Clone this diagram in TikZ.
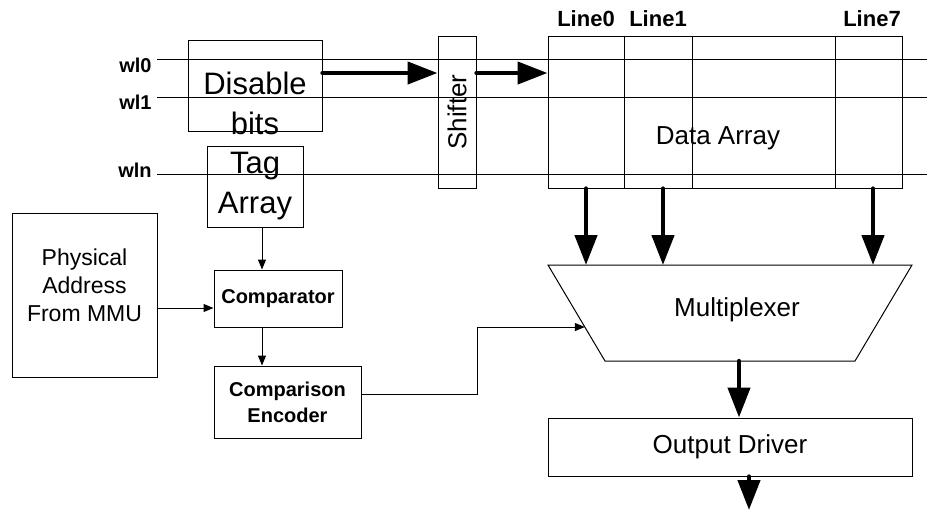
\documentclass[tikz,border=0pt]{standalone}
\usepackage{fontspec}
\setmainfont{Liberation Sans}
\usetikzlibrary{
    calc,
    positioning,
    arrows.meta
}

\begin{document}
\begin{tikzpicture}[
    x=0.5pt, y=-0.5pt,
    box/.style={
    	draw,
    	line width=.5pt,
    	inner sep=0pt, align=center
    }, big/.style={
    	font=\fontsize{15.5}{20}\selectfont, align=center
    }, mid/.style={
    	font=\fontsize{13}{16}\selectfont, align=center
    }, addr/.style={
    	font=\fontsize{11.5}{14}\selectfont, align=center
    }, bld/.style={
    	font=\fontsize{10}{13}\selectfont\bfseries, align=center
    }, wlabel/.style={
    	font=\fontsize{10}{12}\selectfont\bfseries, anchor=east, inner sep=0pt
    }, llabel/.style={
    	font=\fontsize{11}{13}\selectfont\bfseries, inner sep=0pt
    }, wire/.style={
    	line width=.5pt
    }, pil/.style={
    	-{Triangle[length=5pt, width=4pt]},
    	line width=.5pt
    }, bus/.style={
    	-{Triangle[length=15pt, width=11pt]},
    	line width=2.2pt, line cap=round
    }]

    \useasboundingbox (0,0) rectangle (927,510);

    %%% word lines
    \foreach \n/\y/\dy in {0/59/6, 1/97/5, n/174/-4} {
        \coordinate (wl\n) at (157,\y);
        \coordinate (wl\n-e) at (927,\y);
        \draw[wire] (wl\n) -- (wl\n-e);
        \node[wlabel] (wl\n-lbl) at (152,\y+\dy) {wl\n};
    }

    %%% left side
    \node[box, minimum width=67pt, minimum height=45.5pt] (dis) at (255,85.5) {};
    \node[big] (dis-txt) at (255,103) {Disable\\bits};

    \node[box, big, minimum width=48pt, minimum height=40.5pt] (tag) at (255,186.5) {Tag\\Array};

    \node[box, minimum width=72.5pt, minimum height=82pt] (phys) at (84.5,295) {};
    \node[addr] (phys-txt) at (84.5,285) {Physical\\Address\\From MMU};

    \node[box, bld, minimum width=64pt, minimum height=28.5pt] (cmp) at (278,298.5) {Comparator};
    \node[box, bld, minimum width=73.5pt, minimum height=36pt] (enc) at (287.5,402) {Comparison\\Encoder};

    \node[box, mid, minimum width=19pt, minimum height=76pt] (shf) at (457,112) {\rotatebox{90}{Shifter}};

    %%% data array
    \node[box, minimum width=177pt, minimum height=76pt] (data) at (725,112) {};
    \node[mid] (data-txt) at (718,138) {Data Array};
    \foreach \x in {624,692,835}
        \draw[wire] (\x,0 |- data.north) -- (\x,0 |- data.south);

    \node[llabel] (line0) at (586,19) {Line0};
    \node[llabel] (line1) at (658,19) {Line1};
    \node[llabel] (line7) at (872,19) {Line7};

    %%% multiplexer
    \coordinate (mux-tl) at (548,265);
    \coordinate (mux-tr) at (912,265);
    \coordinate (mux-br) at (855,361);
    \coordinate (mux-bl) at (605,361);
    \draw[wire] (mux-tl) -- (mux-tr) -- (mux-br) -- (mux-bl) -- cycle;
    \node[mid] (mux) at (737,310) {Multiplexer};
    \coordinate (mux-in) at ($(mux-tl)!.646!(mux-bl)$);

    \node[box, mid, minimum width=182pt, minimum height=29pt] (out) at (730,447) {Output Driver};
    \coordinate (out-end) at (749,510);

    %%% EDGES
    \draw[pil] (tag.south -| 262,0) -- (cmp.north -| 262,0);
    \draw[pil] (phys.east |- 0,308) -- (cmp.west |- 0,308);
    \draw[pil] (cmp.south -| 262,0) -- (enc.north -| 262,0);
    \draw[pil] (enc.east |- 0,394) -- (477,394) |- (mux-in);

    \draw[bus] (dis.east |- 0,73) -- (shf.west |- 0,73);
    \draw[bus] (shf.east |- 0,73) -- (data.west |- 0,73);
    \foreach \x in {586,663,873}
        \draw[bus] (\x,0 |- data.south) -- (\x,0 |- mux-tl);
    \draw[bus] (739,0 |- mux-bl) -- (739,0 |- out.north);
    \draw[bus] (749,0 |- out.south) -- (out-end);
    %%% EDGES

\end{tikzpicture}
\end{document}
